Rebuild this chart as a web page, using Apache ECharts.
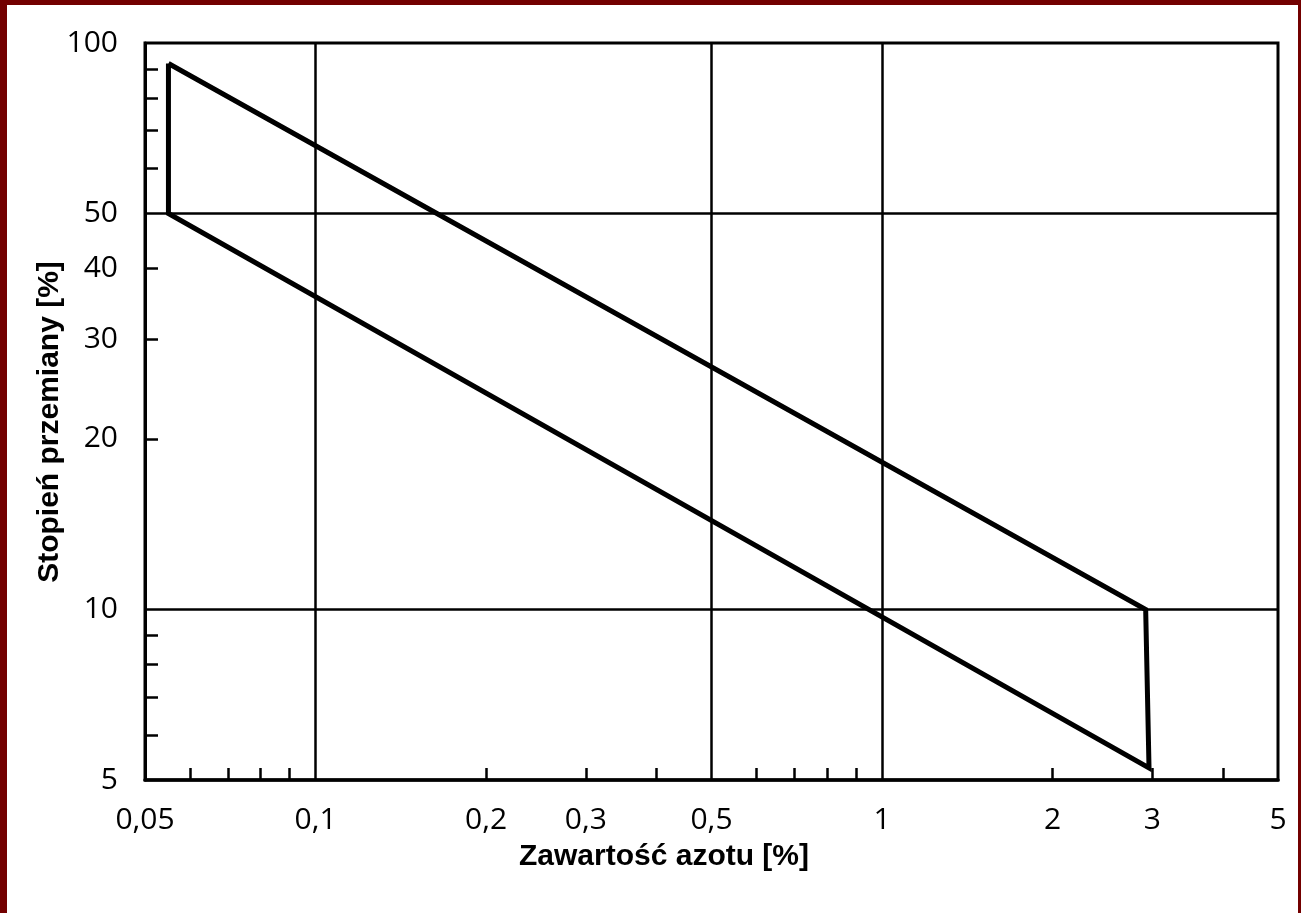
<!DOCTYPE html>
<html>
<head>
<meta charset="utf-8">
<script src="https://cdn.jsdelivr.net/npm/echarts@6/dist/echarts.min.js"></script>
<style>
  html, body { margin: 0; padding: 0; background: #fff; }
  #wrap { position: relative; width: 1301px; height: 913px; overflow: hidden; background: #fff; }
  #chart { position: absolute; left: 0; top: 0; width: 1301px; height: 913px; }
  .bd { position: absolute; background: #730000; }
</style>
</head>
<body>
<div id="wrap">
  <div id="chart"></div>
  <div class="bd" style="left:0;top:0;width:7px;height:913px;"></div>
  <div class="bd" style="left:0;top:0;width:1301px;height:5px;"></div>
  <div class="bd" style="right:0;top:0;width:3px;height:913px;"></div>
</div>
<script>
// ---- data ----
const xTitle = 'Zawartość azotu [%]';
const yTitle = 'Stopień przemiany [%]';
const xLabelValues = [0.05, 0.1, 0.2, 0.3, 0.5, 1, 2, 3, 5];
const xTickValues = [0.06, 0.07, 0.08, 0.09, 0.2, 0.3, 0.4, 0.6, 0.7, 0.8, 0.9, 2, 3, 4];
const yLabelValues = [5, 10, 20, 30, 40, 50, 100];
const yTickValues = [6, 7, 8, 9, 20, 30, 40, 60, 70, 80, 90];
const gridLinesX = [0.1, 0.5, 1];
const gridLinesY = [10, 50];
// band outline (closed polygon): x = nitrogen content [%], y = degree of transformation [%]
const bandX = [0.055, 0.055, 2.96, 2.92, 0.055];
const bandY = [92, 50, 5.25, 10, 92];

const chart = echarts.init(document.getElementById('chart'), null, { renderer: 'canvas' });
const fmt = v => String(+v.toPrecision(6)).replace('.', ',');

const option = {
  animation: false,
  backgroundColor: '#fff',
  grid: { left: 145, right: 23, top: 43, bottom: 133, show: true, borderColor: '#000', borderWidth: 3 },
  xAxis: {
    type: 'log', logBase: 10, min: 0.05, max: 5,
    axisLine: { show: true, onZero: false, lineStyle: { color: '#000', width: 3.5 } },
    axisTick: { show: true, inside: true, length: 12, customValues: xTickValues, lineStyle: { color: '#000', width: 2.5 } },
    minorTick: { show: false },
    splitLine: { show: false },
    axisLabel: {
      customValues: xLabelValues, formatter: fmt, margin: 25,
      color: '#000', fontFamily: 'Open Sans', fontWeight: 500, fontSize: 30
    }
  },
  yAxis: {
    type: 'log', logBase: 10, min: 5, max: 100,
    axisLine: { show: true, onZero: false, lineStyle: { color: '#000', width: 3 } },
    axisTick: { show: true, inside: true, length: 13, customValues: yTickValues, lineStyle: { color: '#000', width: 2.5 } },
    minorTick: { show: false },
    splitLine: { show: false },
    axisLabel: {
      customValues: yLabelValues, formatter: fmt, margin: 27,
      color: '#000', fontFamily: 'Open Sans', fontWeight: 500, fontSize: 30
    }
  },
  graphic: [
    { type: 'text', x: 664, y: 857, silent: true,
      style: { text: xTitle, align: 'center', verticalAlign: 'middle',
               font: 'bold 30px "Liberation Sans", Arial, sans-serif', fill: '#000' } },
    { type: 'text', x: 50, y: 422, rotation: Math.PI / 2, silent: true,
      style: { text: yTitle, align: 'center', verticalAlign: 'middle',
               font: 'bold 30px "Liberation Sans", Arial, sans-serif', fill: '#000' } }
  ],
  series: [
    {
      type: 'line',
      data: bandX.map((x, i) => [x, bandY[i]]),
      symbol: 'none',
      lineStyle: { color: '#000', width: 5, join: 'miter' },
      silent: true,
      z: 5,
      markLine: {
        silent: true, symbol: 'none', animation: false,
        label: { show: false },
        lineStyle: { color: '#000', width: 2.5, type: 'solid' },
        data: gridLinesX.map(v => ({ xAxis: v })).concat(gridLinesY.map(v => ({ yAxis: v })))
      }
    }
  ]
};
chart.setOption(option);
</script>
</body>
</html>
